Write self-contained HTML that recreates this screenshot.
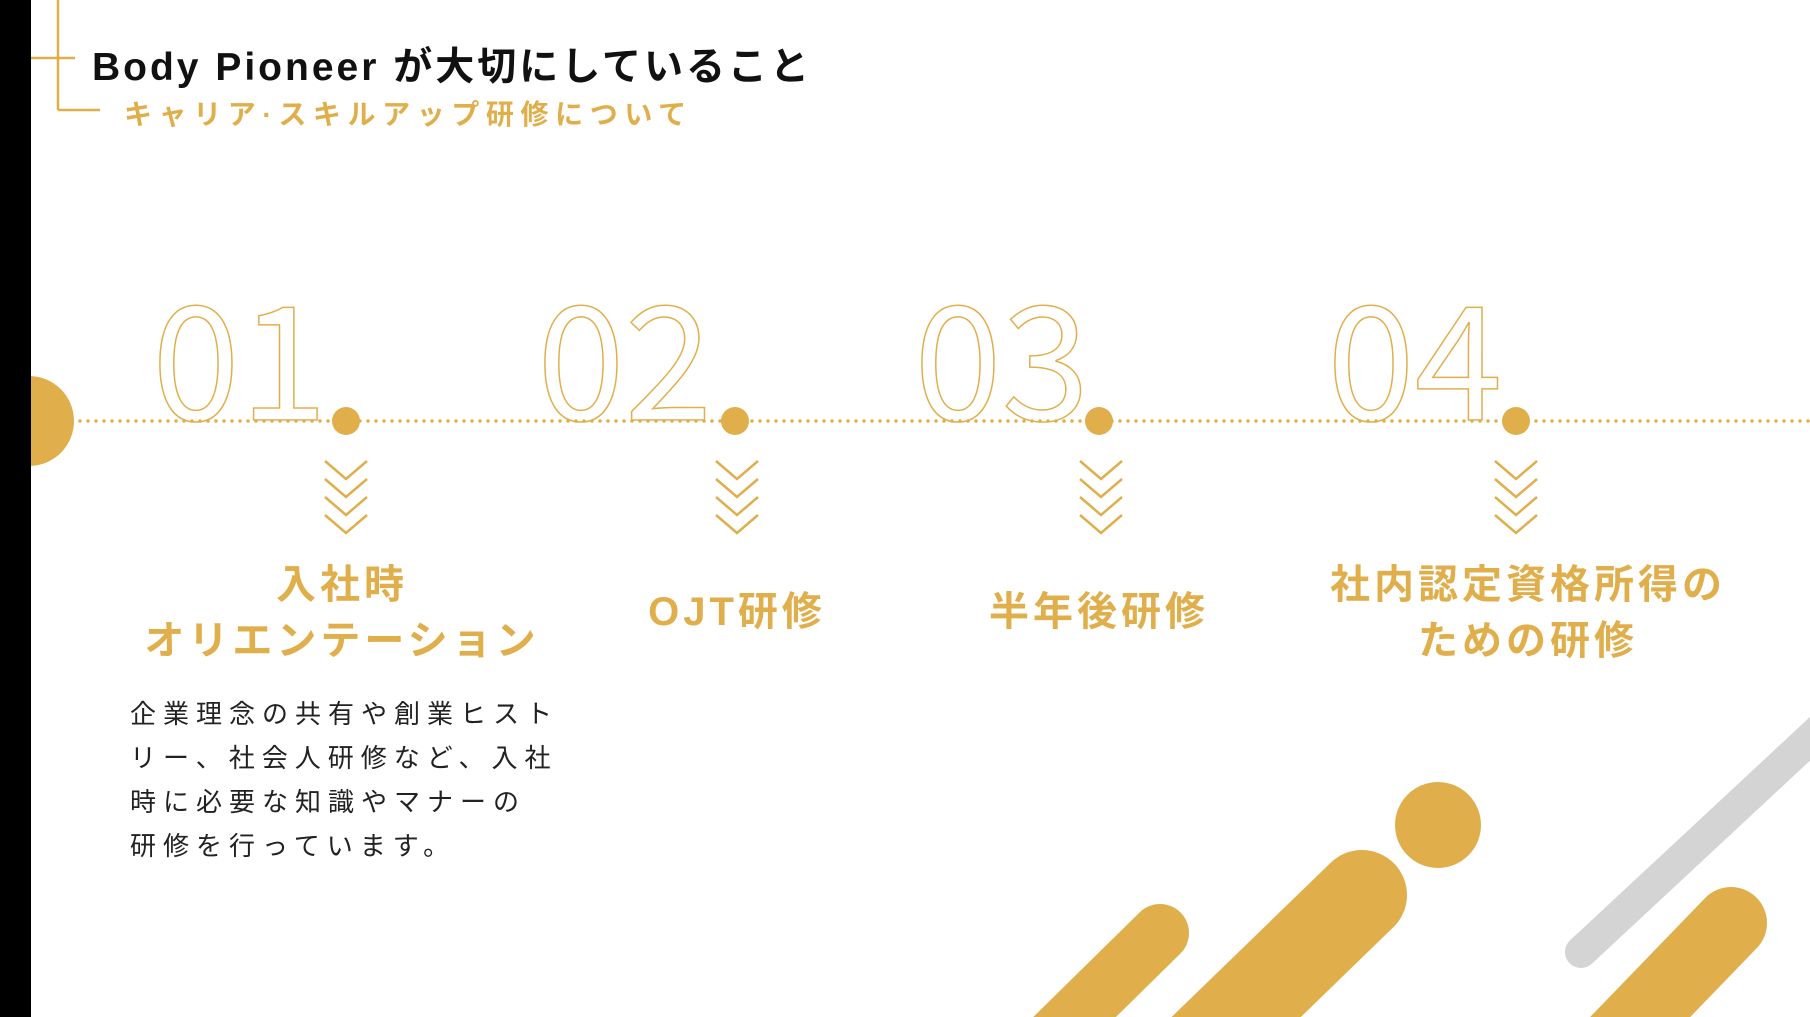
<!DOCTYPE html>
<html><head><meta charset="utf-8"><style>
html,body{margin:0;padding:0;overflow:hidden;width:1810px;height:1017px;}
body{position:relative;background:#fff;font-family:"Liberation Sans","Noto Sans CJK JP",sans-serif;}
.abs{position:absolute;white-space:nowrap;}
.title{left:92px;top:36px;font-size:39px;font-weight:bold;color:#111;letter-spacing:3px;}
.sub{left:124px;top:93px;font-size:28px;font-weight:bold;color:#E0AF4B;letter-spacing:6.6px;}
.lbl{font-size:40px;font-weight:bold;color:#E0AF4B;letter-spacing:4px;text-align:center;line-height:56px;transform:translateX(-50%);}
.body{left:130px;top:692px;font-size:26px;color:#222;letter-spacing:7px;line-height:44px;}
</style></head><body>
<svg class="abs" style="left:0;top:0" width="1810" height="1017">
<rect x="0" y="0" width="31" height="1017" fill="#000"/>
<g stroke="#E0AF4B" stroke-width="2.5" fill="none">
<line x1="58" y1="0" x2="58" y2="110"/>
<line x1="31" y1="58" x2="75" y2="58"/>
<line x1="58" y1="110" x2="100" y2="110"/>
</g>
<g font-family="'Noto Sans CJK JP',sans-serif" font-size="158" font-weight="400" fill="#fff" stroke="#E0AF4B" stroke-width="1.5">
<text x="152" y="420">01</text>
<text x="537" y="420">02</text>
<text x="914" y="420">03</text>
<text x="1327" y="420">04</text>
</g>
<line x1="80" y1="421" x2="1810" y2="421" stroke="#E0AF4B" stroke-width="3.5" stroke-linecap="round" stroke-dasharray="0 8"/>
<circle cx="29" cy="421" r="45" fill="#E0AF4B"/>
<rect x="0" y="370" width="31" height="110" fill="#000"/>
<g fill="#E0AF4B">
<circle cx="346" cy="421" r="14"/><circle cx="735" cy="421" r="14"/>
<circle cx="1099" cy="421" r="14"/><circle cx="1516" cy="421" r="14"/>
</g>
<g stroke="#E0AF4B" stroke-width="2.5" fill="none" id="ch">
<polyline points="325,461 346,479 367,461"/><polyline points="325,479 346,497 367,479"/>
<polyline points="325,497 346,515 367,497"/><polyline points="325,515 346,533 367,515"/>
</g>
<use href="#ch" x="391"/><use href="#ch" x="755"/><use href="#ch" x="1170"/>
<g stroke-linecap="round" fill="none">
<line x1="1581" y1="952" x2="1900" y2="655" stroke="#D4D4D4" stroke-width="32"/>
<line x1="1160" y1="933" x2="980" y2="1110" stroke="#E0AF4B" stroke-width="58"/>
<line x1="1362" y1="895" x2="1130" y2="1120" stroke="#E0AF4B" stroke-width="90"/>
<line x1="1731" y1="923" x2="1560" y2="1100" stroke="#E0AF4B" stroke-width="72"/>
</g>
<circle cx="1438" cy="825" r="43" fill="#E0AF4B"/>
</svg>
<div class="abs title">Body Pioneer が大切にしていること</div>
<div class="abs sub">キャリア·スキルアップ研修について</div>
<div class="abs lbl" style="left:342px;top:557px;">入社時<br>オリエンテーション</div>
<div class="abs lbl" style="left:737px;top:584px;">OJT研修</div>
<div class="abs lbl" style="left:1099px;top:584px;">半年後研修</div>
<div class="abs lbl" style="left:1528px;top:557px;">社内認定資格所得の<br>ための研修</div>
<div class="abs body">企業理念の共有や創業ヒスト<br>リー、社会人研修など、入社<br>時に必要な知識やマナーの<br>研修を行っています。</div>
</body></html>
